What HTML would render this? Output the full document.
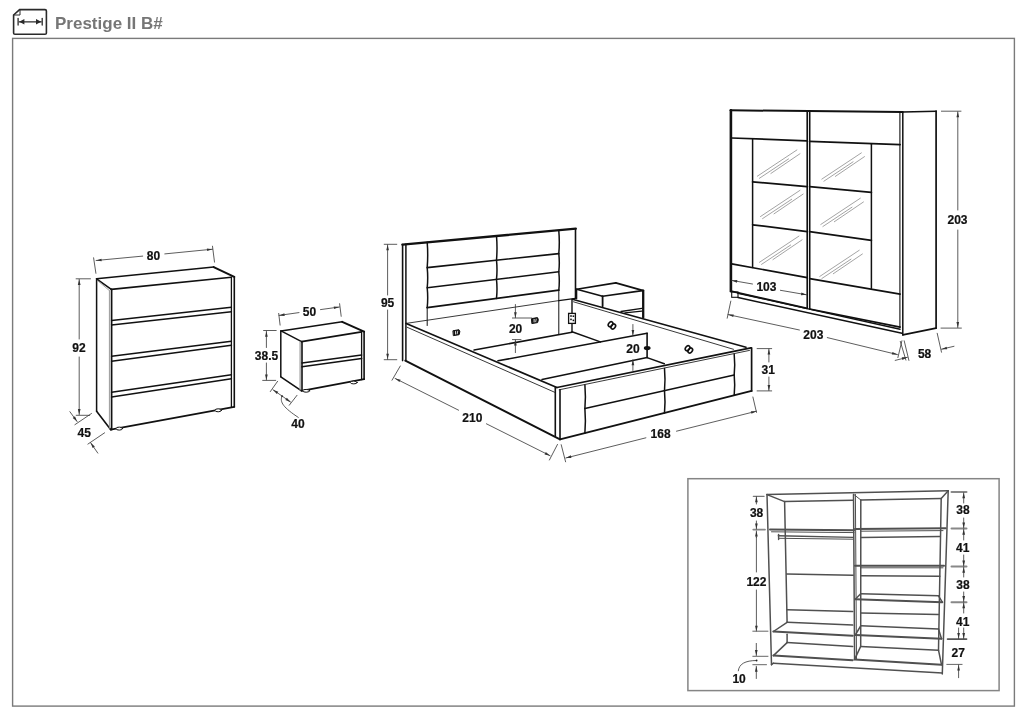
<!DOCTYPE html>
<html><head><meta charset="utf-8"><style>
html,body{margin:0;padding:0;background:#fff;width:1020px;height:721px;overflow:hidden}
svg{display:block;will-change:transform}
text{font-family:"Liberation Sans",sans-serif}
</style></head><body>
<svg width="1020" height="721" viewBox="0 0 1020 721" stroke-linecap="round">
<path d="M13.6,15 L19.6,9.6 L45,9.6 Q46.4,9.6 46.4,11 L46.4,32.9 Q46.4,34.2 45,34.2 L15,34.2 Q13.6,34.2 13.6,32.9 Z" stroke="#2a2a2a" stroke-width="1.6" fill="none" />
<path d="M13.6,15 L20,15 L20,9.6" stroke="#2a2a2a" stroke-width="1.0" fill="none" />
<line x1="18.1" y1="18.4" x2="18.1" y2="25.1" stroke="#2a2a2a" stroke-width="1.3"/>
<line x1="42.2" y1="18.4" x2="42.2" y2="25.1" stroke="#2a2a2a" stroke-width="1.3"/>
<line x1="19.2" y1="21.8" x2="41.2" y2="21.8" stroke="#2a2a2a" stroke-width="1.3"/>
<path d="M41.20,21.80 L36.00,24.50 L36.00,19.10 Z" fill="#2a2a2a"/>
<path d="M19.20,21.80 L24.40,19.10 L24.40,24.50 Z" fill="#2a2a2a"/>
<text x="55" y="29.3" font-size="17" fill="#767676" font-weight="bold">Prestige II B#</text>
<rect x="12.6" y="38.4" width="1001.8" height="667.7" fill="none" stroke="#7a7a7a" stroke-width="1.4"/>
<line x1="96.6" y1="278.8" x2="213.7" y2="267.1" stroke="#111" stroke-width="1.5"/>
<line x1="213.7" y1="267.1" x2="234.3" y2="276.9" stroke="#111" stroke-width="2.0"/>
<line x1="111.3" y1="289.4" x2="231.4" y2="277.2" stroke="#111" stroke-width="1.6"/>
<line x1="96.6" y1="278.8" x2="111.3" y2="289.4" stroke="#111" stroke-width="1.5"/>
<line x1="97.6" y1="280.6" x2="109.4" y2="290.6" stroke="#999" stroke-width="0.9"/>
<line x1="96.6" y1="278.8" x2="96.6" y2="411.2" stroke="#111" stroke-width="1.5"/>
<line x1="96.6" y1="411.2" x2="110.6" y2="429.6" stroke="#111" stroke-width="1.6"/>
<line x1="109.4" y1="290.6" x2="109.4" y2="428.2" stroke="#999" stroke-width="1.0"/>
<line x1="111.6" y1="289.4" x2="111.6" y2="429.6" stroke="#111" stroke-width="1.7"/>
<line x1="231.4" y1="277.2" x2="231.4" y2="407.2" stroke="#111" stroke-width="1.3"/>
<line x1="234.3" y1="276.9" x2="234.3" y2="406.8" stroke="#111" stroke-width="1.6"/>
<line x1="110.6" y1="429.6" x2="234.3" y2="406.8" stroke="#111" stroke-width="1.8"/>
<line x1="111.6" y1="320.4" x2="231.4" y2="307.2" stroke="#111" stroke-width="1.5"/>
<line x1="111.6" y1="324.9" x2="231.4" y2="311.8" stroke="#111" stroke-width="1.5"/>
<line x1="111.6" y1="356.3" x2="231.4" y2="341.2" stroke="#111" stroke-width="1.5"/>
<line x1="111.6" y1="361.2" x2="231.4" y2="345.3" stroke="#111" stroke-width="1.5"/>
<line x1="111.6" y1="392.2" x2="231.4" y2="374.8" stroke="#111" stroke-width="1.5"/>
<line x1="111.6" y1="397.1" x2="231.4" y2="378.8" stroke="#111" stroke-width="1.5"/>
<ellipse cx="119.3" cy="428.6" rx="3.2" ry="1.5" stroke="#111" stroke-width="1.0" fill="#fff"/>
<ellipse cx="218.2" cy="410.3" rx="3.2" ry="1.5" stroke="#111" stroke-width="1.0" fill="#fff"/>
<line x1="93.6" y1="257.8" x2="95.9" y2="273.3" stroke="#333" stroke-width="0.8"/>
<line x1="212.5" y1="246.2" x2="214.5" y2="262.1" stroke="#333" stroke-width="0.8"/>
<line x1="142.7" y1="256.1" x2="96.1" y2="260.5" stroke="#333" stroke-width="0.8"/>
<path d="M96.10,260.50 L101.45,258.64 L101.70,261.33 Z" fill="#333"/>
<line x1="164.8" y1="253.9" x2="212.5" y2="249.2" stroke="#333" stroke-width="0.8"/>
<path d="M212.50,249.20 L207.16,251.08 L206.89,248.40 Z" fill="#333"/>
<text x="153.5" y="259.8" font-size="12" text-anchor="middle" fill="#111" stroke="#111" stroke-width="0.2" font-weight="bold">80</text>
<line x1="76.1" y1="278.8" x2="90.5" y2="278.8" stroke="#333" stroke-width="0.8"/>
<line x1="79.2" y1="339" x2="79.2" y2="279.4" stroke="#333" stroke-width="0.8"/>
<path d="M79.20,279.40 L80.55,284.90 L77.85,284.90 Z" fill="#333"/>
<text x="79" y="351.5" font-size="12" text-anchor="middle" fill="#111" stroke="#111" stroke-width="0.2" font-weight="bold">92</text>
<line x1="79.2" y1="357" x2="79.2" y2="414.6" stroke="#333" stroke-width="0.8"/>
<path d="M79.20,414.60 L77.85,409.10 L80.55,409.10 Z" fill="#333"/>
<line x1="76.2" y1="415.3" x2="89.7" y2="415.3" stroke="#333" stroke-width="0.8"/>
<line x1="74.9" y1="424.7" x2="91.5" y2="413.5" stroke="#333" stroke-width="0.8"/>
<line x1="69.9" y1="411.7" x2="77.1" y2="421.6" stroke="#333" stroke-width="0.8"/>
<path d="M77.10,421.60 L72.77,417.95 L74.96,416.36 Z" fill="#333"/>
<text x="84.2" y="437.2" font-size="12" text-anchor="middle" fill="#111" stroke="#111" stroke-width="0.2" font-weight="bold">45</text>
<line x1="87.9" y1="444.1" x2="104.6" y2="432.8" stroke="#333" stroke-width="0.8"/>
<line x1="97.8" y1="453.1" x2="90.6" y2="442.7" stroke="#333" stroke-width="0.8"/>
<path d="M90.60,442.70 L94.84,446.45 L92.62,447.99 Z" fill="#333"/>
<line x1="281" y1="330.9" x2="342.2" y2="321.8" stroke="#111" stroke-width="1.5"/>
<line x1="342.2" y1="321.8" x2="364.1" y2="331.6" stroke="#111" stroke-width="2.0"/>
<line x1="301.6" y1="341.6" x2="361.6" y2="331.9" stroke="#111" stroke-width="1.6"/>
<line x1="281" y1="330.9" x2="301.6" y2="341.6" stroke="#111" stroke-width="1.5"/>
<line x1="280.8" y1="330.9" x2="280.8" y2="376.8" stroke="#111" stroke-width="1.5"/>
<line x1="280.8" y1="376.8" x2="301.2" y2="390.6" stroke="#111" stroke-width="1.6"/>
<line x1="300.1" y1="342" x2="300.1" y2="390" stroke="#999" stroke-width="1.2"/>
<line x1="302" y1="341.6" x2="302" y2="390.8" stroke="#111" stroke-width="1.6"/>
<line x1="361.6" y1="331.9" x2="361.6" y2="379.6" stroke="#111" stroke-width="1.3"/>
<line x1="364.1" y1="331.6" x2="364.1" y2="379.2" stroke="#111" stroke-width="1.6"/>
<line x1="301.6" y1="390.8" x2="364.1" y2="379.2" stroke="#111" stroke-width="1.8"/>
<line x1="302" y1="362.9" x2="361.6" y2="355.1" stroke="#111" stroke-width="1.5"/>
<line x1="302" y1="366.8" x2="361.6" y2="358.6" stroke="#111" stroke-width="1.5"/>
<ellipse cx="306.2" cy="390.8" rx="3.4" ry="1.4" stroke="#111" stroke-width="1.0" fill="#fff"/>
<ellipse cx="353.8" cy="382.5" rx="3.4" ry="1.4" stroke="#111" stroke-width="1.0" fill="#fff"/>
<line x1="278.7" y1="313.4" x2="280.1" y2="325.1" stroke="#333" stroke-width="0.8"/>
<line x1="339.6" y1="303.7" x2="341.2" y2="316.3" stroke="#333" stroke-width="0.8"/>
<line x1="299" y1="312.6" x2="279.1" y2="315.4" stroke="#333" stroke-width="0.8"/>
<path d="M279.10,315.40 L284.36,313.30 L284.73,315.97 Z" fill="#333"/>
<line x1="320.5" y1="309.6" x2="339.4" y2="307.0" stroke="#333" stroke-width="0.8"/>
<path d="M339.40,307.00 L334.14,309.09 L333.77,306.41 Z" fill="#333"/>
<text x="309.4" y="316.3" font-size="12" text-anchor="middle" fill="#111" stroke="#111" stroke-width="0.2" font-weight="bold">50</text>
<line x1="263.6" y1="330.5" x2="276.2" y2="330.5" stroke="#333" stroke-width="0.8"/>
<line x1="262.7" y1="380.4" x2="275.7" y2="380.4" stroke="#333" stroke-width="0.8"/>
<line x1="266.4" y1="347.5" x2="266.4" y2="331.2" stroke="#333" stroke-width="0.8"/>
<path d="M266.40,331.20 L267.75,336.70 L265.05,336.70 Z" fill="#333"/>
<text x="266.5" y="360" font-size="12" text-anchor="middle" fill="#111" stroke="#111" stroke-width="0.2" font-weight="bold">38.5</text>
<line x1="266.4" y1="363" x2="266.4" y2="379.9" stroke="#333" stroke-width="0.8"/>
<path d="M266.40,379.90 L265.05,374.40 L267.75,374.40 Z" fill="#333"/>
<line x1="270.3" y1="391.6" x2="277.6" y2="381.3" stroke="#333" stroke-width="0.8"/>
<line x1="289.3" y1="405.2" x2="297" y2="395.3" stroke="#333" stroke-width="0.8"/>
<line x1="282" y1="396" x2="273" y2="389.8" stroke="#333" stroke-width="0.8"/>
<path d="M273.00,389.80 L278.30,391.81 L276.76,394.03 Z" fill="#333"/>
<line x1="282" y1="396" x2="290.6" y2="402" stroke="#333" stroke-width="0.8"/>
<path d="M290.60,402.00 L285.32,399.96 L286.86,397.75 Z" fill="#333"/>
<circle cx="282.1" cy="396.2" r="0.9" fill="#333"/>
<path d="M282.1,396.2 C279,402 284,408 298.3,417.4" stroke="#333" stroke-width="0.8" fill="none" />
<text x="297.9" y="427.7" font-size="12" text-anchor="middle" fill="#111" stroke="#111" stroke-width="0.2" font-weight="bold">40</text>
<line x1="402.4" y1="244.6" x2="575.8" y2="228.7" stroke="#111" stroke-width="2.3"/>
<line x1="402.6" y1="244.6" x2="402.6" y2="360.6" stroke="#111" stroke-width="1.6"/>
<line x1="405.9" y1="244.3" x2="405.9" y2="360.6" stroke="#111" stroke-width="1.5"/>
<line x1="575.5" y1="228.7" x2="575.5" y2="298.3" stroke="#111" stroke-width="1.6"/>
<path d="M427.2,242.2 Q428.2,254.9 427.2,267.6 Q428.2,277.65 427.2,287.7 Q428.2,297.65 427.2,307.6" stroke="#111" stroke-width="1.5" fill="none" />
<line x1="427.2" y1="307.6" x2="427.2" y2="325.5" stroke="#111" stroke-width="1.0"/>
<path d="M496.5,236 Q497.5,248.1 496.5,260.2 Q497.5,269.75 496.5,279.3 Q497.5,288.85 496.5,298.4" stroke="#111" stroke-width="1.5" fill="none" />
<path d="M558.8,230.8 Q559.8,242.2 558.8,253.6 Q559.8,262.7 558.8,271.8 Q559.8,281.0 558.8,290.2" stroke="#111" stroke-width="1.5" fill="none" />
<line x1="558.8" y1="290.2" x2="558.8" y2="334.1" stroke="#111" stroke-width="1.0"/>
<line x1="427.2" y1="267.6" x2="558.8" y2="253.6" stroke="#111" stroke-width="1.6"/>
<line x1="427.2" y1="287.7" x2="558.8" y2="271.8" stroke="#111" stroke-width="1.6"/>
<line x1="427.2" y1="307.6" x2="558.8" y2="290.2" stroke="#111" stroke-width="1.7"/>
<line x1="405.5" y1="323.5" x2="558.8" y2="300.6" stroke="#222" stroke-width="0.9"/>
<line x1="558.8" y1="300.6" x2="575.5" y2="298.3" stroke="#111" stroke-width="1.3"/>
<line x1="406.2" y1="323.5" x2="556.9" y2="387.5" stroke="#111" stroke-width="1.7"/>
<line x1="407" y1="327.2" x2="554.5" y2="392.2" stroke="#222" stroke-width="0.9"/>
<line x1="405.3" y1="360.6" x2="560" y2="439.3" stroke="#111" stroke-width="1.9"/>
<line x1="572.4" y1="299.2" x2="746" y2="347.2" stroke="#111" stroke-width="1.6"/>
<line x1="573.5" y1="301.8" x2="733.5" y2="349.3" stroke="#222" stroke-width="0.9"/>
<line x1="572" y1="299.4" x2="572" y2="313.4" stroke="#111" stroke-width="1.4"/>
<line x1="572" y1="323.4" x2="572" y2="331.8" stroke="#111" stroke-width="1.4"/>
<line x1="572" y1="331.8" x2="600.4" y2="341.9" stroke="#111" stroke-width="1.5"/>
<line x1="647.1" y1="357.6" x2="664.3" y2="363.8" stroke="#111" stroke-width="1.5"/>
<line x1="474.1" y1="350" x2="572" y2="332.2" stroke="#111" stroke-width="1.6"/>
<line x1="498" y1="360.8" x2="647.1" y2="333.3" stroke="#111" stroke-width="1.6"/>
<line x1="647.1" y1="333.3" x2="647.1" y2="357.6" stroke="#111" stroke-width="1.6"/>
<line x1="542" y1="379.6" x2="647.1" y2="357.6" stroke="#111" stroke-width="1.5"/>
<line x1="556.9" y1="387.5" x2="750.9" y2="347.9" stroke="#111" stroke-width="1.7"/>
<line x1="559.2" y1="389.8" x2="749.5" y2="350.4" stroke="#222" stroke-width="0.9"/>
<line x1="555.3" y1="387.5" x2="555.3" y2="436.2" stroke="#111" stroke-width="1.6"/>
<line x1="560" y1="389.8" x2="560" y2="439.4" stroke="#111" stroke-width="1.6"/>
<line x1="751.6" y1="347.9" x2="751.6" y2="390.9" stroke="#111" stroke-width="1.7"/>
<line x1="560" y1="439.4" x2="751.6" y2="390.9" stroke="#111" stroke-width="1.9"/>
<path d="M584.9,384.9 Q585.9,396.75 584.9,408.6 Q585.9,420.85 584.9,433.1" stroke="#111" stroke-width="1.5" fill="none" />
<path d="M664.5,368.4 Q665.5,379.5 664.5,390.6 Q665.5,401.75 664.5,412.9" stroke="#111" stroke-width="1.5" fill="none" />
<path d="M734.2,354.2 Q735.2,364.54999999999995 734.2,374.9 Q735.2,385.1 734.2,395.3" stroke="#111" stroke-width="1.5" fill="none" />
<line x1="584.9" y1="408.6" x2="734.2" y2="374.9" stroke="#111" stroke-width="1.5"/>
<line x1="576.7" y1="289.2" x2="615.8" y2="282.9" stroke="#111" stroke-width="1.6"/>
<line x1="615.8" y1="282.9" x2="643.3" y2="290.6" stroke="#111" stroke-width="1.9"/>
<line x1="576.7" y1="289.2" x2="602.6" y2="296.3" stroke="#111" stroke-width="1.6"/>
<line x1="602.6" y1="296.3" x2="642.5" y2="290.6" stroke="#111" stroke-width="1.6"/>
<line x1="576.5" y1="289.2" x2="576.5" y2="298.6" stroke="#111" stroke-width="1.6"/>
<line x1="602.6" y1="296.3" x2="602.6" y2="306.3" stroke="#111" stroke-width="1.8"/>
<line x1="643.2" y1="290.6" x2="643.2" y2="317.4" stroke="#111" stroke-width="2.3"/>
<line x1="621" y1="311.5" x2="641.8" y2="308.3" stroke="#111" stroke-width="1.3"/>
<line x1="624.9" y1="312.8" x2="641.8" y2="311.1" stroke="#111" stroke-width="1.3"/>
<rect x="568.6" y="313.4" width="6.8" height="10" fill="#fff" stroke="#111" stroke-width="1.3"/>
<rect x="570.2" y="315.2" width="1.6" height="1.6" fill="#111"/><rect x="572.6" y="315.4" width="1.6" height="1.6" fill="#111"/><rect x="570.2" y="318.6" width="1.6" height="1.6" fill="#111"/><rect x="572.6" y="319.6" width="1.6" height="1.6" fill="#111"/>
<path d="M453.3,330.7 L458.9,329.7 Q460.7,331.1 459.09999999999997,334.7 L453.7,335.6 Z" stroke="#111" stroke-width="1.0" fill="#111" />
<line x1="455.59999999999997" y1="331.5" x2="455.59999999999997" y2="334.1" stroke="#fff" stroke-width="0.9"/>
<line x1="457.7" y1="331.2" x2="457.2" y2="333.8" stroke="#fff" stroke-width="0.8"/>
<path d="M531.8000000000001,318.59999999999997 L537.4000000000001,317.59999999999997 Q539.2,319.0 537.6,322.59999999999997 L532.2,323.5 Z" stroke="#111" stroke-width="1.0" fill="#111" />
<line x1="534.1" y1="319.4" x2="534.1" y2="322.0" stroke="#fff" stroke-width="0.9"/>
<line x1="536.2" y1="319.09999999999997" x2="535.7" y2="321.7" stroke="#fff" stroke-width="0.8"/>
<g transform="translate(611.8,325.3) rotate(40)"><ellipse cx="-1.6" cy="0" rx="2" ry="2.7" fill="none" stroke="#111" stroke-width="1.6"/><ellipse cx="1.9" cy="0" rx="2" ry="2.7" fill="none" stroke="#111" stroke-width="1.6"/></g>
<g transform="translate(688.8,349.3) rotate(40)"><ellipse cx="-1.6" cy="0" rx="2" ry="2.7" fill="none" stroke="#111" stroke-width="1.6"/><ellipse cx="1.9" cy="0" rx="2" ry="2.7" fill="none" stroke="#111" stroke-width="1.6"/></g>
<line x1="384.2" y1="244.3" x2="396.8" y2="244.3" stroke="#333" stroke-width="0.8"/>
<line x1="384.2" y1="359.7" x2="396.8" y2="359.7" stroke="#333" stroke-width="0.8"/>
<line x1="387.6" y1="295" x2="387.6" y2="244.8" stroke="#333" stroke-width="0.8"/>
<path d="M387.60,244.80 L388.95,250.30 L386.25,250.30 Z" fill="#333"/>
<text x="387.6" y="306.6" font-size="12" text-anchor="middle" fill="#111" stroke="#111" stroke-width="0.2" font-weight="bold">95</text>
<line x1="387.6" y1="310" x2="387.6" y2="359.3" stroke="#333" stroke-width="0.8"/>
<path d="M387.60,359.30 L386.25,353.80 L388.95,353.80 Z" fill="#333"/>
<line x1="512.4" y1="318" x2="531.8" y2="318" stroke="#333" stroke-width="0.8"/>
<line x1="515.4" y1="304.5" x2="515.4" y2="317.7" stroke="#333" stroke-width="0.8"/>
<path d="M515.40,317.70 L514.05,312.20 L516.75,312.20 Z" fill="#333"/>
<text x="515.6" y="332.6" font-size="12" text-anchor="middle" fill="#111" stroke="#111" stroke-width="0.2" font-weight="bold">20</text>
<line x1="512.4" y1="339.6" x2="521" y2="339.6" stroke="#333" stroke-width="0.8"/>
<line x1="515.4" y1="352.6" x2="515.4" y2="340" stroke="#333" stroke-width="0.8"/>
<path d="M515.40,340.00 L516.75,345.50 L514.05,345.50 Z" fill="#333"/>
<line x1="632.9" y1="324.5" x2="632.9" y2="335.5" stroke="#333" stroke-width="0.8"/>
<path d="M632.90,335.50 L631.55,330.00 L634.25,330.00 Z" fill="#333"/>
<text x="632.9" y="352.8" font-size="12" text-anchor="middle" fill="#111" stroke="#111" stroke-width="0.2" font-weight="bold">20</text>
<line x1="632.9" y1="370.5" x2="632.9" y2="359.8" stroke="#333" stroke-width="0.8"/>
<path d="M632.90,359.80 L634.25,365.30 L631.55,365.30 Z" fill="#333"/>
<ellipse cx="647.2" cy="348.1" rx="3.4" ry="2.1" fill="#111"/>
<line x1="392" y1="380.2" x2="400.3" y2="366" stroke="#333" stroke-width="0.8"/>
<line x1="549.4" y1="460" x2="557.5" y2="444.4" stroke="#333" stroke-width="0.8"/>
<line x1="458.6" y1="410.2" x2="395.1" y2="378.4" stroke="#333" stroke-width="0.8"/>
<path d="M395.10,378.40 L400.62,379.66 L399.41,382.07 Z" fill="#333"/>
<line x1="486.4" y1="423.8" x2="550.1" y2="455.7" stroke="#333" stroke-width="0.8"/>
<path d="M550.10,455.70 L544.58,454.44 L545.79,452.03 Z" fill="#333"/>
<text x="472.3" y="421.5" font-size="12" text-anchor="middle" fill="#111" stroke="#111" stroke-width="0.2" font-weight="bold">210</text>
<line x1="561.2" y1="444.7" x2="565.6" y2="461.8" stroke="#333" stroke-width="0.8"/>
<line x1="752.9" y1="397" x2="756.5" y2="412.4" stroke="#333" stroke-width="0.8"/>
<line x1="645.9" y1="437.8" x2="565.8" y2="458.0" stroke="#333" stroke-width="0.8"/>
<path d="M565.80,458.00 L570.80,455.35 L571.46,457.96 Z" fill="#333"/>
<line x1="676.5" y1="431.2" x2="756.5" y2="411.2" stroke="#333" stroke-width="0.8"/>
<path d="M756.50,411.20 L751.49,413.84 L750.84,411.22 Z" fill="#333"/>
<text x="660.6" y="438.2" font-size="12" text-anchor="middle" fill="#111" stroke="#111" stroke-width="0.2" font-weight="bold">168</text>
<line x1="757.1" y1="348.6" x2="771.7" y2="348.6" stroke="#333" stroke-width="0.8"/>
<line x1="757.1" y1="390.9" x2="771.7" y2="390.9" stroke="#333" stroke-width="0.8"/>
<line x1="768.9" y1="362" x2="768.9" y2="349" stroke="#333" stroke-width="0.8"/>
<path d="M768.90,349.00 L770.25,354.50 L767.55,354.50 Z" fill="#333"/>
<text x="768.3" y="373.5" font-size="12" text-anchor="middle" fill="#111" stroke="#111" stroke-width="0.2" font-weight="bold">31</text>
<line x1="768.9" y1="377" x2="768.9" y2="390.5" stroke="#333" stroke-width="0.8"/>
<path d="M768.90,390.50 L767.55,385.00 L770.25,385.00 Z" fill="#333"/>
<line x1="730.5" y1="110.3" x2="902.6" y2="112" stroke="#111" stroke-width="2.0"/>
<line x1="902.6" y1="112" x2="936.2" y2="111.2" stroke="#111" stroke-width="1.6"/>
<line x1="730.9" y1="110.3" x2="730.9" y2="291.2" stroke="#111" stroke-width="2.6"/>
<line x1="899.9" y1="112" x2="899.9" y2="327.1" stroke="#111" stroke-width="1.1"/>
<line x1="902.8" y1="112" x2="902.8" y2="334.9" stroke="#111" stroke-width="1.5"/>
<line x1="936.1" y1="111.2" x2="936.1" y2="328.1" stroke="#111" stroke-width="1.7"/>
<line x1="902.8" y1="334.9" x2="936.1" y2="328.1" stroke="#111" stroke-width="1.6"/>
<line x1="807.2" y1="110.8" x2="807.2" y2="308.3" stroke="#111" stroke-width="1.6"/>
<line x1="809.7" y1="110.8" x2="809.7" y2="309" stroke="#111" stroke-width="1.6"/>
<line x1="731.7" y1="138" x2="806.9" y2="140.8" stroke="#111" stroke-width="1.7"/>
<line x1="809.6" y1="141.3" x2="900.1" y2="144.7" stroke="#111" stroke-width="1.7"/>
<line x1="752.6" y1="139.1" x2="752.6" y2="267.4" stroke="#111" stroke-width="1.5"/>
<line x1="871.4" y1="144.2" x2="871.4" y2="288.3" stroke="#111" stroke-width="1.5"/>
<line x1="752.6" y1="181.9" x2="806.9" y2="186.6" stroke="#111" stroke-width="1.7"/>
<line x1="809.6" y1="186.6" x2="871.4" y2="192.3" stroke="#111" stroke-width="1.7"/>
<line x1="752.6" y1="224.8" x2="807.2" y2="231.6" stroke="#111" stroke-width="1.7"/>
<line x1="809.6" y1="231.6" x2="871.4" y2="240.3" stroke="#111" stroke-width="1.7"/>
<line x1="731.7" y1="263.8" x2="807.2" y2="277.7" stroke="#111" stroke-width="1.7"/>
<line x1="809.7" y1="278.6" x2="900.1" y2="294.1" stroke="#111" stroke-width="1.7"/>
<line x1="730.8" y1="291.2" x2="807.2" y2="308.3" stroke="#111" stroke-width="1.7"/>
<line x1="809.7" y1="309" x2="900.1" y2="327.1" stroke="#111" stroke-width="1.7"/>
<rect x="731.7" y="292" width="6.3" height="5.3" fill="none" stroke="#111" stroke-width="1.1"/>
<line x1="738" y1="293.3" x2="900.1" y2="329.2" stroke="#111" stroke-width="1.4"/>
<line x1="738" y1="297.5" x2="902" y2="333.2" stroke="#111" stroke-width="1.5"/>
<line x1="757.36" y1="176.18" x2="796.88" y2="149.98" stroke="#9a9a9a" stroke-width="0.9"/>
<line x1="759.44" y1="178.26" x2="788.56" y2="158.92" stroke="#9a9a9a" stroke-width="0.9"/>
<line x1="770.88" y1="173.48" x2="800.0" y2="153.72" stroke="#9a9a9a" stroke-width="0.9"/>
<line x1="821.84" y1="179.1" x2="861.36" y2="152.89" stroke="#9a9a9a" stroke-width="0.9"/>
<line x1="823.92" y1="181.18" x2="853.04" y2="161.83" stroke="#9a9a9a" stroke-width="0.9"/>
<line x1="835.36" y1="176.39" x2="864.48" y2="156.63" stroke="#9a9a9a" stroke-width="0.9"/>
<line x1="760.48" y1="216.54" x2="800.0" y2="190.33" stroke="#9a9a9a" stroke-width="0.9"/>
<line x1="762.56" y1="218.62" x2="791.68" y2="199.27" stroke="#9a9a9a" stroke-width="0.9"/>
<line x1="774.0" y1="213.83" x2="803.12" y2="194.07" stroke="#9a9a9a" stroke-width="0.9"/>
<line x1="820.8" y1="224.44" x2="860.32" y2="198.23" stroke="#9a9a9a" stroke-width="0.9"/>
<line x1="822.88" y1="226.52" x2="852.0" y2="207.18" stroke="#9a9a9a" stroke-width="0.9"/>
<line x1="834.32" y1="221.74" x2="863.44" y2="201.98" stroke="#9a9a9a" stroke-width="0.9"/>
<line x1="759.44" y1="262.3" x2="798.96" y2="236.09" stroke="#9a9a9a" stroke-width="0.9"/>
<line x1="761.52" y1="264.38" x2="790.64" y2="245.03" stroke="#9a9a9a" stroke-width="0.9"/>
<line x1="772.96" y1="259.59" x2="802.08" y2="239.83" stroke="#9a9a9a" stroke-width="0.9"/>
<line x1="819.76" y1="276.44" x2="859.28" y2="250.23" stroke="#9a9a9a" stroke-width="0.9"/>
<line x1="821.84" y1="278.52" x2="850.96" y2="259.18" stroke="#9a9a9a" stroke-width="0.9"/>
<line x1="833.28" y1="273.74" x2="862.4" y2="253.98" stroke="#9a9a9a" stroke-width="0.9"/>
<line x1="941.4" y1="111.2" x2="961" y2="111.2" stroke="#333" stroke-width="0.8"/>
<line x1="941" y1="328.1" x2="961.4" y2="328.1" stroke="#333" stroke-width="0.8"/>
<line x1="957.8" y1="210" x2="957.8" y2="111.8" stroke="#333" stroke-width="0.8"/>
<path d="M957.80,111.80 L959.15,117.30 L956.45,117.30 Z" fill="#333"/>
<text x="957.5" y="224.2" font-size="12" text-anchor="middle" fill="#111" stroke="#111" stroke-width="0.2" font-weight="bold">203</text>
<line x1="957.8" y1="230" x2="957.8" y2="327.6" stroke="#333" stroke-width="0.8"/>
<path d="M957.80,327.60 L956.45,322.10 L959.15,322.10 Z" fill="#333"/>
<line x1="752.5" y1="284" x2="731.7" y2="280.4" stroke="#333" stroke-width="0.8"/>
<path d="M731.70,280.40 L737.35,280.01 L736.89,282.67 Z" fill="#333"/>
<line x1="780.4" y1="290.3" x2="806.6" y2="294.8" stroke="#333" stroke-width="0.8"/>
<path d="M806.60,294.80 L800.95,295.20 L801.41,292.54 Z" fill="#333"/>
<text x="766.4" y="291" font-size="12" text-anchor="middle" fill="#111" stroke="#111" stroke-width="0.2" font-weight="bold">103</text>
<line x1="727.2" y1="318.2" x2="730.8" y2="301.1" stroke="#333" stroke-width="0.8"/>
<line x1="900.3" y1="341.4" x2="905.9" y2="360.1" stroke="#333" stroke-width="0.8"/>
<line x1="799.4" y1="330" x2="728.1" y2="314.6" stroke="#333" stroke-width="0.8"/>
<path d="M728.10,314.60 L733.76,314.44 L733.19,317.08 Z" fill="#333"/>
<line x1="827.3" y1="337.6" x2="897.5" y2="354.6" stroke="#333" stroke-width="0.8"/>
<path d="M897.50,354.60 L891.84,354.62 L892.47,351.99 Z" fill="#333"/>
<text x="813.3" y="339.3" font-size="12" text-anchor="middle" fill="#111" stroke="#111" stroke-width="0.2" font-weight="bold">203</text>
<line x1="901.9" y1="340.8" x2="897.9" y2="357.6" stroke="#333" stroke-width="0.8"/>
<line x1="904.2" y1="340.8" x2="908.9" y2="360.4" stroke="#333" stroke-width="0.8"/>
<line x1="937.2" y1="333.3" x2="941.5" y2="352.2" stroke="#333" stroke-width="0.8"/>
<line x1="895.2" y1="360.4" x2="907.4" y2="357.3" stroke="#333" stroke-width="0.8"/>
<path d="M907.40,357.30 L902.40,359.96 L901.74,357.35 Z" fill="#333"/>
<line x1="954" y1="346.3" x2="941.5" y2="349.2" stroke="#333" stroke-width="0.8"/>
<path d="M941.50,349.20 L946.55,346.64 L947.16,349.27 Z" fill="#333"/>
<text x="924.6" y="358.2" font-size="12" text-anchor="middle" fill="#111" stroke="#111" stroke-width="0.2" font-weight="bold">58</text>
<rect x="687.9" y="478.7" width="311.2" height="211.9" fill="none" stroke="#858585" stroke-width="1.5"/>
<line x1="767" y1="494.6" x2="948.2" y2="490.8" stroke="#505050" stroke-width="1.5"/>
<line x1="767" y1="494.6" x2="771.5" y2="664.7" stroke="#505050" stroke-width="1.5"/>
<line x1="948.2" y1="490.8" x2="942.3" y2="673.9" stroke="#505050" stroke-width="1.5"/>
<line x1="784.6" y1="501.6" x2="853.2" y2="500.3" stroke="#505050" stroke-width="1.5"/>
<line x1="860.8" y1="500" x2="941.2" y2="498.6" stroke="#505050" stroke-width="1.5"/>
<line x1="767" y1="494.6" x2="784.6" y2="501.6" stroke="#505050" stroke-width="1.5"/>
<line x1="948.2" y1="490.8" x2="941.2" y2="498.6" stroke="#505050" stroke-width="1.5"/>
<line x1="784.6" y1="501.6" x2="787.1" y2="622.3" stroke="#505050" stroke-width="1.5"/>
<line x1="941.2" y1="498.6" x2="938.5" y2="650.2" stroke="#505050" stroke-width="1.5"/>
<line x1="853.5" y1="494.4" x2="854.6" y2="659.4" stroke="#505050" stroke-width="1.5"/>
<line x1="855.4" y1="494.4" x2="856.5" y2="659.4" stroke="#505050" stroke-width="1.0"/>
<line x1="860.8" y1="500" x2="860.7" y2="646.4" stroke="#505050" stroke-width="1.5"/>
<line x1="854" y1="494.6" x2="860.8" y2="500" stroke="#505050" stroke-width="1.0"/>
<line x1="770" y1="529.6" x2="854" y2="530.2" stroke="#505050" stroke-width="2.0"/>
<line x1="771.5" y1="531.8" x2="854" y2="532.6" stroke="#505050" stroke-width="1.0"/>
<line x1="778.3" y1="535.8" x2="853.2" y2="537.4" stroke="#505050" stroke-width="1.4"/>
<line x1="778.6" y1="538.3" x2="853.2" y2="539.2" stroke="#505050" stroke-width="1.0"/>
<line x1="778.6" y1="534.5" x2="778.6" y2="539.5" stroke="#505050" stroke-width="1.4"/>
<line x1="786.6" y1="574" x2="853.2" y2="575.2" stroke="#505050" stroke-width="1.5"/>
<line x1="787.1" y1="609.8" x2="852.7" y2="611.4" stroke="#505050" stroke-width="1.5"/>
<line x1="787.1" y1="622.3" x2="852.7" y2="625.1" stroke="#505050" stroke-width="1.5"/>
<line x1="773.4" y1="631.5" x2="852.7" y2="635.8" stroke="#505050" stroke-width="2.0"/>
<line x1="773.4" y1="631.5" x2="787.1" y2="622.3" stroke="#505050" stroke-width="1.5"/>
<line x1="787.1" y1="634.2" x2="787.1" y2="642.6" stroke="#505050" stroke-width="1.5"/>
<line x1="787.1" y1="642.6" x2="852.7" y2="646.4" stroke="#505050" stroke-width="1.5"/>
<line x1="773.4" y1="655.6" x2="852.7" y2="660.2" stroke="#505050" stroke-width="2.0"/>
<line x1="773.4" y1="655.6" x2="787.1" y2="642.6" stroke="#505050" stroke-width="1.5"/>
<line x1="773.4" y1="663.2" x2="942.3" y2="673.1" stroke="#505050" stroke-width="1.5"/>
<line x1="771.5" y1="664.7" x2="773.4" y2="663.2" stroke="#505050" stroke-width="1.5"/>
<line x1="855" y1="529.1" x2="945.7" y2="528.3" stroke="#505050" stroke-width="2.0"/>
<line x1="860.8" y1="531.2" x2="943" y2="530.6" stroke="#505050" stroke-width="1.0"/>
<line x1="860.8" y1="537.4" x2="939.9" y2="536.6" stroke="#505050" stroke-width="1.5"/>
<line x1="855" y1="565.7" x2="944" y2="565.7" stroke="#505050" stroke-width="2.0"/>
<line x1="860.8" y1="567.8" x2="943" y2="567.8" stroke="#505050" stroke-width="1.0"/>
<line x1="860.8" y1="575.7" x2="939.9" y2="576.2" stroke="#505050" stroke-width="1.5"/>
<line x1="855.3" y1="599.2" x2="942.3" y2="602.2" stroke="#505050" stroke-width="2.0"/>
<line x1="938.5" y1="595.8" x2="942.3" y2="602.2" stroke="#505050" stroke-width="1.5"/>
<line x1="855.3" y1="599.2" x2="860.7" y2="593.8" stroke="#505050" stroke-width="1.5"/>
<line x1="860.7" y1="593.8" x2="938.5" y2="595.8" stroke="#505050" stroke-width="1.5"/>
<line x1="860.7" y1="612.9" x2="938.5" y2="614.4" stroke="#505050" stroke-width="1.5"/>
<line x1="855.3" y1="635" x2="941.5" y2="638.8" stroke="#505050" stroke-width="2.0"/>
<line x1="938.5" y1="628.9" x2="941.5" y2="638.8" stroke="#505050" stroke-width="1.5"/>
<line x1="855.3" y1="635" x2="860.7" y2="625.8" stroke="#505050" stroke-width="1.5"/>
<line x1="860.7" y1="625.8" x2="938.5" y2="628.9" stroke="#505050" stroke-width="1.5"/>
<line x1="854.6" y1="659.4" x2="941.5" y2="664.7" stroke="#505050" stroke-width="2.0"/>
<line x1="854.6" y1="659.4" x2="860.7" y2="646.4" stroke="#505050" stroke-width="1.5"/>
<line x1="860.7" y1="646.4" x2="938.5" y2="650.2" stroke="#505050" stroke-width="1.5"/>
<line x1="938.5" y1="650.2" x2="941.5" y2="664.7" stroke="#505050" stroke-width="1.5"/>
<line x1="753.3" y1="496.3" x2="764.1" y2="496.3" stroke="#777" stroke-width="1.2"/>
<line x1="753.3" y1="529.6" x2="765" y2="529.6" stroke="#888" stroke-width="1.8"/>
<line x1="756.4" y1="504" x2="756.4" y2="496.8" stroke="#333" stroke-width="0.8"/>
<path d="M756.40,496.80 L757.75,502.30 L755.05,502.30 Z" fill="#333"/>
<text x="756.6" y="517" font-size="12" text-anchor="middle" fill="#111" stroke="#111" stroke-width="0.2" font-weight="bold">38</text>
<line x1="756.4" y1="521" x2="756.4" y2="529" stroke="#333" stroke-width="0.8"/>
<path d="M756.40,529.00 L755.05,523.50 L757.75,523.50 Z" fill="#333"/>
<line x1="756.4" y1="531" x2="756.4" y2="537.5" stroke="#333" stroke-width="0.8"/>
<path d="M756.40,531.00 L757.75,536.50 L755.05,536.50 Z" fill="#333"/>
<line x1="756.4" y1="537.5" x2="756.4" y2="572" stroke="#333" stroke-width="0.8"/>
<text x="756.4" y="585.7" font-size="12" text-anchor="middle" fill="#111" stroke="#111" stroke-width="0.2" font-weight="bold">122</text>
<line x1="756.4" y1="590" x2="756.4" y2="631.2" stroke="#333" stroke-width="0.8"/>
<path d="M756.40,631.20 L755.05,625.70 L757.75,625.70 Z" fill="#333"/>
<line x1="752.8" y1="631.2" x2="768" y2="631.2" stroke="#666" stroke-width="1.0"/>
<line x1="756.3" y1="643.4" x2="756.3" y2="655.6" stroke="#333" stroke-width="0.8"/>
<path d="M756.30,655.60 L754.95,650.10 L757.65,650.10 Z" fill="#333"/>
<line x1="752.8" y1="656.3" x2="768" y2="656.3" stroke="#666" stroke-width="1.0"/>
<line x1="752.8" y1="664.7" x2="766.5" y2="664.7" stroke="#666" stroke-width="1.0"/>
<line x1="756.3" y1="678.5" x2="756.3" y2="666.3" stroke="#333" stroke-width="0.8"/>
<path d="M756.30,666.30 L757.65,671.80 L754.95,671.80 Z" fill="#333"/>
<path d="M738.3,670.8 C739,664 745,660.5 756.6,660.5" stroke="#333" stroke-width="0.8" fill="none" />
<circle cx="756.6" cy="660.5" r="0.9" fill="#222"/>
<text x="739.1" y="683" font-size="12" text-anchor="middle" fill="#111" stroke="#111" stroke-width="0.2" font-weight="bold">10</text>
<line x1="951.5" y1="492" x2="966.5" y2="492" stroke="#888" stroke-width="2.0"/>
<line x1="951.5" y1="528.6" x2="966.5" y2="528.6" stroke="#888" stroke-width="2.0"/>
<line x1="951.5" y1="566.6" x2="966.5" y2="566.6" stroke="#888" stroke-width="2.0"/>
<line x1="951.5" y1="602.2" x2="966.5" y2="602.2" stroke="#888" stroke-width="2.0"/>
<line x1="947.6" y1="639.1" x2="966.5" y2="639.1" stroke="#555" stroke-width="1.8"/>
<line x1="946.8" y1="664.4" x2="962.1" y2="664.4" stroke="#666" stroke-width="1.0"/>
<line x1="963.7" y1="503" x2="963.7" y2="492.8" stroke="#333" stroke-width="0.8"/>
<path d="M963.70,492.80 L965.05,498.30 L962.35,498.30 Z" fill="#333"/>
<text x="963" y="514.3" font-size="12" text-anchor="middle" fill="#111" stroke="#111" stroke-width="0.2" font-weight="bold">38</text>
<line x1="963.7" y1="518" x2="963.7" y2="528" stroke="#333" stroke-width="0.8"/>
<path d="M963.70,528.00 L962.35,522.50 L965.05,522.50 Z" fill="#333"/>
<line x1="963.7" y1="540" x2="963.7" y2="529.2" stroke="#333" stroke-width="0.8"/>
<path d="M963.70,529.20 L965.05,534.70 L962.35,534.70 Z" fill="#333"/>
<text x="962.8" y="552.4" font-size="12" text-anchor="middle" fill="#111" stroke="#111" stroke-width="0.2" font-weight="bold">41</text>
<line x1="963.7" y1="555" x2="963.7" y2="566" stroke="#333" stroke-width="0.8"/>
<path d="M963.70,566.00 L962.35,560.50 L965.05,560.50 Z" fill="#333"/>
<line x1="963.7" y1="577" x2="963.7" y2="567.2" stroke="#333" stroke-width="0.8"/>
<path d="M963.70,567.20 L965.05,572.70 L962.35,572.70 Z" fill="#333"/>
<text x="963" y="589" font-size="12" text-anchor="middle" fill="#111" stroke="#111" stroke-width="0.2" font-weight="bold">38</text>
<line x1="963.7" y1="592" x2="963.7" y2="601.6" stroke="#333" stroke-width="0.8"/>
<path d="M963.70,601.60 L962.35,596.10 L965.05,596.10 Z" fill="#333"/>
<line x1="963.7" y1="613" x2="963.7" y2="602.8" stroke="#333" stroke-width="0.8"/>
<path d="M963.70,602.80 L965.05,608.30 L962.35,608.30 Z" fill="#333"/>
<text x="962.8" y="625.7" font-size="12" text-anchor="middle" fill="#111" stroke="#111" stroke-width="0.2" font-weight="bold">41</text>
<line x1="963.7" y1="628" x2="963.7" y2="638.5" stroke="#333" stroke-width="0.8"/>
<path d="M963.70,638.50 L962.35,633.00 L965.05,633.00 Z" fill="#333"/>
<line x1="958.6" y1="628" x2="958.6" y2="638.5" stroke="#333" stroke-width="0.8"/>
<path d="M958.60,638.50 L957.25,633.00 L959.95,633.00 Z" fill="#333"/>
<text x="958.3" y="656.9" font-size="12" text-anchor="middle" fill="#111" stroke="#111" stroke-width="0.2" font-weight="bold">27</text>
<line x1="958.6" y1="677.7" x2="958.6" y2="665" stroke="#333" stroke-width="0.8"/>
<path d="M958.60,665.00 L959.95,670.50 L957.25,670.50 Z" fill="#333"/>
</svg>
</body></html>
